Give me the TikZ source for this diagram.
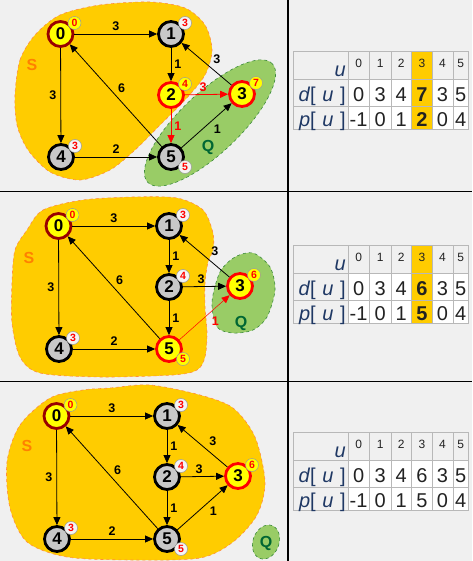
\documentclass[tikz,border=0pt]{standalone}
\usepackage{fontspec}
\setmainfont{Liberation Sans}
\usetikzlibrary{arrows.meta,matrix}

\definecolor{panelbg}{HTML}{F0F0F0}
\definecolor{setS}{HTML}{FFCC00}
\definecolor{setSline}{HTML}{FF8C40}
\definecolor{setStext}{HTML}{FF8000}
\definecolor{setQ}{HTML}{99CC66}
\definecolor{setQline}{HTML}{3A8A3A}
\definecolor{setQtext}{HTML}{006633}
\definecolor{vgrayfill}{HTML}{C8C8C8}
\definecolor{vyellow}{HTML}{FFFF00}
\definecolor{srcline}{HTML}{990000}
\definecolor{distline}{HTML}{9A9A9A}
\definecolor{distfill}{HTML}{F4F4F4}
\definecolor{gridline}{HTML}{B8B8B8}
\definecolor{hlgold}{HTML}{FFCC00}
\definecolor{navy}{HTML}{1F3864}
\definecolor{cellink}{HTML}{222222}

\begin{document}
\begin{tikzpicture}[x=1pt,y=-1pt,
    vtx/.style={circle,line width=2.8pt,minimum size=25pt,inner sep=0pt,font=\fontsize{17}{17}\selectfont\bfseries},
    vgray/.style={vtx,draw=black,fill=vgrayfill},
    vsrc/.style={vtx,draw=srcline,fill=vyellow},
    vred/.style={vtx,draw=red,fill=vyellow},
    dist/.style={circle,draw=distline,line width=0.5pt,fill=distfill,minimum size=13pt,inner sep=0pt,text=red,font=\fontsize{10.5}{10.5}\selectfont\bfseries},
    distyel/.style={dist,fill=vyellow},
    link/.style={line width=0.8pt,-{Triangle[length=8pt,width=7pt]}},
    redlink/.style={link,draw=red},
    wt/.style={inner sep=2pt,font=\fontsize{12.5}{12.5}\selectfont\bfseries},
    redwt/.style={wt,text=red},
    sset/.style={fill=setS,draw=setSline,dashed,line width=0.6pt},
    qset/.style={fill=setQ,draw=setQline,dashed,line width=0.6pt},
    stxt/.style={text=setStext,font=\fontsize{16}{16}\selectfont\bfseries},
    qtxt/.style={text=setQtext,font=\fontsize{16}{16}\selectfont\bfseries},
    tbl/.style={matrix of nodes,anchor=north west,inner sep=0pt,outer sep=0pt,row sep=-0.6pt,column sep=-0.6pt,
      nodes={draw=gridline,line width=0.6pt,fill=white,inner sep=0pt,anchor=center,text=cellink,font=\fontsize{20}{20}\selectfont},
      column 1/.style={nodes={fill=panelbg,text width=50.5pt,align=right,inner xsep=2pt,text=navy}},
      column 2/.style={nodes={minimum width=21.6pt}},
      column 3/.style={nodes={minimum width=21.6pt}},
      column 4/.style={nodes={minimum width=20.6pt}},
      column 5/.style={nodes={minimum width=20.6pt}},
      column 6/.style={nodes={minimum width=20.6pt}},
      column 7/.style={nodes={minimum width=15.6pt}},
      row 1/.style={nodes={fill=panelbg,text height=16pt,text depth=12pt,font=\fontsize{12}{12}\selectfont}},
      row 2/.style={nodes={text height=22pt,text depth=5pt}},
      row 3/.style={nodes={text height=20pt,text depth=3pt}}},
    uhead/.style={text=navy,font=\fontsize{20}{20}\selectfont\itshape,text height=25pt,text depth=3pt},
    hlhead/.style={fill=hlgold},
    hl/.style={fill=hlgold,font=\fontsize{20}{20}\selectfont\bfseries}]

  \fill[panelbg] (0,0) rectangle (472,561);
  \useasboundingbox (0,0) rectangle (472,561);

  % step 1
  \draw[sset] plot[smooth cycle] coordinates {(15,95) (20,60) (35,35) (60,15) (100,5) (150,2) (185,8) (205,25) (212,50) (205,75) (185,100) (160,125) (135,150) (110,170) (80,180) (50,172) (28,150) (17,125)};
  \draw[qset,rotate around={43.6:(210,123)}] (210,123) ellipse [x radius=86pt,y radius=30pt];
  \node[stxt] (s1) at (32,65) {S};
  \node[qtxt] (q1) at (208,147) {Q};
  \node[vsrc] (a0) at (60.5,34) {0};
  \node[vgray] (a1) at (171,34) {1};
  \node[vred] (a2) at (171,95) {2};
  \node[vred] (a3) at (242,94) {3};
  \node[vgray] (a4) at (61,157) {4};
  \node[vgray] (a5) at (171,157) {5};
  \draw[link] (a0) -- node[wt,above=1pt] {3} (a1);
  \draw[link] (a0) -- node[wt,left=2pt] {3} (a4);
  \draw[link] (a1) -- node[wt,right=1pt] {1} (a2);
  \draw[redlink] (a2) -- node[redwt,above=1pt,pos=0.42] {3} (a3);
  \draw[redlink] (a2) -- node[redwt,right=1pt] {1} (a5);
  \draw[link] (a3) -- node[wt,above right=1pt,pos=0.43] {3} (a1);
  \draw[link] (a4) -- node[wt,above=1pt] {2} (a5);
  \draw[link] (a5) -- node[wt,above right=0pt,pos=0.5] {6} (a0);
  \draw[link] (a5) -- node[wt,below right=1pt,pos=0.58] {1} (a3);
  \node[distyel] (a0d) at ([xshift=14pt,yshift=11pt]a0) {0};
  \node[dist] (a1d) at ([xshift=14pt,yshift=11pt]a1) {3};
  \node[distyel] (a2d) at ([xshift=14pt,yshift=11pt]a2) {4};
  \node[distyel] (a3d) at ([xshift=14pt,yshift=11pt]a3) {7};
  \node[dist] (a4d) at ([xshift=14pt,yshift=11pt]a4) {3};
  \node[dist] (a5d) at ([xshift=14pt,yshift=-10pt]a5) {5};
  \matrix[tbl] (ta) at (293,51) {
    |[uhead]| u & 0 & 1 & 2 & |[hlhead]| 3 & 4 & 5 \\
    \textit{d}[ \textit{u} ] & 0 & 3 & 4 & |[hl]| 7 & 3 & 5 \\
    \textit{p}[ \textit{u} ] & -1 & 0 & 1 & |[hl]| 2 & 0 & 4 \\
  };

  % step 2
  \begin{scope}[yshift=-192pt]
    \draw[sset] plot[smooth cycle] coordinates {(27,38) (43,18) (83,8) (133,5) (177,6) (203,18) (213,41) (213,58) (208,70) (205,91) (205,115) (207,141) (205,165) (197,178) (173,183) (100,185) (40,181) (20,165) (12,131) (12,91) (15,58)};
    \draw[qset] plot[smooth cycle] coordinates {(212,110) (220,80) (235,65) (253,61) (270,75) (275,98) (267,125) (253,138) (233,141) (217,135)};
    \node[stxt] (s2) at (29,66) {S};
    \node[qtxt] (q2) at (241,131) {Q};
    \begin{scope}[xshift=-2pt]
      \node[vsrc] (b0) at (60.5,34) {0};
      \node[vgray] (b1) at (171,34) {1};
      \node[vgray] (b2) at (171,95) {2};
      \node[vred] (b3) at (242,94) {3};
      \node[vgray] (b4) at (61,157) {4};
      \node[vred] (b5) at (171,157) {5};
    \end{scope}
    \draw[link] (b0) -- node[wt,above=1pt] {3} (b1);
    \draw[link] (b0) -- node[wt,left=2pt] {3} (b4);
    \draw[link] (b1) -- node[wt,right=1pt] {1} (b2);
    \draw[link] (b2) -- node[wt,above=1pt,pos=0.42] {3} (b3);
    \draw[link] (b2) -- node[wt,right=1pt] {1} (b5);
    \draw[link] (b3) -- node[wt,above right=1pt,pos=0.43] {3} (b1);
    \draw[link] (b4) -- node[wt,above=1pt] {2} (b5);
    \draw[link] (b5) -- node[wt,above right=0pt,pos=0.5] {6} (b0);
    \draw[redlink,line width=0.5pt] (b5) -- node[redwt,below right=1pt,pos=0.58] {1} (b3);
    \node[distyel] (b0d) at ([xshift=14pt,yshift=11pt]b0) {0};
    \node[dist] (b1d) at ([xshift=14pt,yshift=11pt]b1) {3};
    \node[dist] (b2d) at ([xshift=14pt,yshift=11pt]b2) {4};
    \node[distyel] (b3d) at ([xshift=14pt,yshift=11pt]b3) {6};
    \node[dist] (b4d) at ([xshift=14pt,yshift=11pt]b4) {3};
    \node[distyel] (b5d) at ([xshift=14pt,yshift=-10pt]b5) {5};
    \matrix[tbl] (tb) at (293,53) {
      |[uhead]| u & 0 & 1 & 2 & |[hlhead]| 3 & 4 & 5 \\
      \textit{d}[ \textit{u} ] & 0 & 3 & 4 & |[hl]| 6 & 3 & 5 \\
      \textit{p}[ \textit{u} ] & -1 & 0 & 1 & |[hl]| 5 & 0 & 4 \\
    };
  \end{scope}

  % step 3
  \begin{scope}[yshift=-382pt]
    \draw[sset] plot[smooth cycle] coordinates {(7,80) (20,43) (50,16) (83,8) (110,6) (150,3) (200,13) (233,26) (255,55) (265,100) (257,133) (233,160) (200,176) (133,178) (67,175) (27,160) (10,126)};
    \draw[qset,rotate around={-20:(266,160)}] (266,160) ellipse [x radius=13pt,y radius=17.5pt];
    \node[stxt] (s3) at (27,64) {S};
    \node[qtxt] (q3) at (266,161) {Q};
    \begin{scope}[xshift=-4pt]
      \node[vsrc] (c0) at (60.5,34) {0};
      \node[vgray] (c1) at (171,34) {1};
      \node[vgray] (c2) at (171,95) {2};
      \node[vred] (c3) at (242,94) {3};
      \node[vgray] (c4) at (61,157) {4};
      \node[vgray] (c5) at (171,157) {5};
    \end{scope}
    \draw[link] (c0) -- node[wt,above=1pt] {3} (c1);
    \draw[link] (c0) -- node[wt,left=2pt] {3} (c4);
    \draw[link] (c1) -- node[wt,right=1pt] {1} (c2);
    \draw[link] (c2) -- node[wt,above=1pt,pos=0.42] {3} (c3);
    \draw[link] (c2) -- node[wt,right=1pt] {1} (c5);
    \draw[link] (c3) -- node[wt,above right=1pt,pos=0.43] {3} (c1);
    \draw[link] (c4) -- node[wt,above=1pt] {2} (c5);
    \draw[link] (c5) -- node[wt,above right=0pt,pos=0.5] {6} (c0);
    \draw[link] (c5) -- node[wt,below right=1pt,pos=0.58] {1} (c3);
    \node[distyel] (c0d) at ([xshift=14pt,yshift=11pt]c0) {0};
    \node[dist] (c1d) at ([xshift=14pt,yshift=11pt]c1) {3};
    \node[dist] (c2d) at ([xshift=14pt,yshift=11pt]c2) {4};
    \node[distyel] (c3d) at ([xshift=14pt,yshift=11pt]c3) {6};
    \node[dist] (c4d) at ([xshift=14pt,yshift=11pt]c4) {3};
    \node[dist] (c5d) at ([xshift=14pt,yshift=-10pt]c5) {5};
    \matrix[tbl] (tc) at (293,50) {
      |[uhead]| u & 0 & 1 & 2 & 3 & 4 & 5 \\
      \textit{d}[ \textit{u} ] & 0 & 3 & 4 & 6 & 3 & 5 \\
      \textit{p}[ \textit{u} ] & -1 & 0 & 1 & 5 & 0 & 4 \\
    };
  \end{scope}

  \draw[line width=1.5pt] (288,0) -- (288,561);
  \draw[line width=1.5pt] (0,191.5) -- (472,191.5);
  \draw[line width=1.5pt] (0,381.5) -- (472,381.5);
\end{tikzpicture}
\end{document}
